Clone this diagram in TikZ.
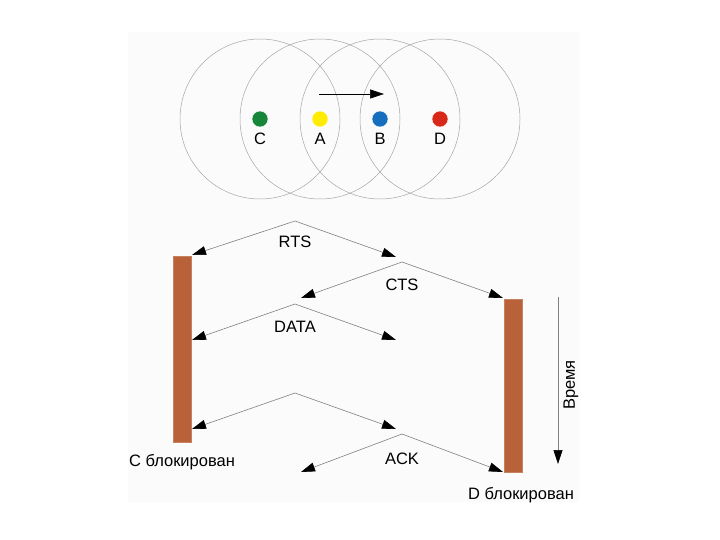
\documentclass[tikz,border=0pt]{standalone}
\usepackage{fontspec}
\setmainfont{Liberation Sans}
\usetikzlibrary{arrows.meta}
\definecolor{stgreen}{RGB}{22,135,58}
\definecolor{styellow}{RGB}{255,236,0}
\definecolor{stblue}{RGB}{22,110,190}
\definecolor{stred}{RGB}{215,40,25}
\definecolor{blockbrown}{RGB}{185,98,58}
\begin{document}
\begin{tikzpicture}[x=1pt,y=-1pt,
   font=\fontsize{16.5}{19}\selectfont,
   reach/.style={draw=gray!70,line width=0.5pt},
   station/.style={circle,inner sep=0pt,minimum size=16pt,draw=white,line width=0.4pt},
   msg/.style={draw=gray,line width=0.6pt,-{Triangle[length=14pt,width=9pt,color=black]}},
   blocked/.style={fill=blockbrown,draw=blockbrown!80!white,line width=0.5pt,inner sep=0pt,minimum width=18pt}]
   \useasboundingbox (0,0) rectangle (720,540);
   \fill[black!1.5] (128,32) rectangle (579,502);
   % ranges of the four stations
   \draw[reach] (260,119) circle[radius=80pt];
   \draw[reach] (320,119) circle[radius=80pt];
   \draw[reach] (380,119) circle[radius=80pt];
   \draw[reach] (440,119) circle[radius=80pt];
   \node[station,fill=stgreen] (dC) at (260,119) {};
   \node[station,fill=styellow] (dA) at (320,119) {};
   \node[station,fill=stblue] (dB) at (380,119) {};
   \node[station,fill=stred] (dD) at (440,119) {};
   \node (lC) at (260,139) {C};
   \node (lA) at (320,139) {A};
   \node (lB) at (380,139) {B};
   \node (lD) at (440,139) {D};
   \coordinate (dirA) at (319,94);
   \coordinate (dirB) at (384,94);
   \draw[line width=0.6pt,-{Triangle[length=14pt,width=9pt]}] (dirA) -- (dirB);
   % blocked stations
   \node[blocked,minimum height=186pt] (barC) at (182,349) {};
   \node[blocked,minimum height=173pt] (barD) at (513,385.5) {};
   \node (txtC) at (182,462) {C блокирован};
   \node (txtD) at (521,495) {D блокирован};
   % RTS
   \coordinate (rts) at (295,221);
   \coordinate (rtsL) at (192,255);
   \coordinate (rtsR) at (396,257);
   \draw[msg] (rts) -- (rtsL);
   \draw[msg] (rts) -- (rtsR);
   \node (lrts) at (295,242) {RTS};
   % CTS
   \coordinate (cts) at (402,262);
   \coordinate (ctsL) at (301,298);
   \coordinate (ctsR) at (503,298);
   \draw[msg] (cts) -- (ctsL);
   \draw[msg] (cts) -- (ctsR);
   \node (lcts) at (402,285) {CTS};
   % DATA
   \coordinate (data) at (295,304);
   \coordinate (dataL) at (192,340);
   \coordinate (dataR) at (396,340);
   \draw[msg] (data) -- (dataL);
   \draw[msg] (data) -- (dataR);
   \node (ldata) at (295,327) {DATA};
   \coordinate (tail) at (295,393);
   \coordinate (tailL) at (192,429);
   \coordinate (tailR) at (396,429);
   \draw[msg] (tail) -- (tailL);
   \draw[msg] (tail) -- (tailR);
   % ACK
   \coordinate (ack) at (402,434);
   \coordinate (ackL) at (301,472);
   \coordinate (ackR) at (503,472);
   \draw[msg] (ack) -- (ackL);
   \draw[msg] (ack) -- (ackR);
   \node (lack) at (402,459) {ACK};
   % time axis
   \coordinate (t0) at (558,297);
   \coordinate (t1) at (558,464);
   \draw[msg] (t0) -- (t1);
   \node[rotate=90] (time) at (571,385) {Время};
\end{tikzpicture}
\end{document}
